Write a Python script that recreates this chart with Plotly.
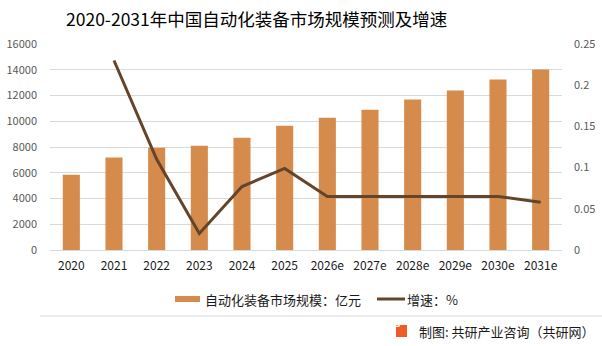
import plotly.graph_objects as go

categories = ["2020", "2021", "2022", "2023", "2024", "2025",
              "2026e", "2027e", "2028e", "2029e", "2030e", "2031e"]
market_size = [5850, 7180, 7950, 8100, 8720, 9650,
               10280, 10900, 11680, 12380, 13240, 14020]
growth = [None, 0.23, 0.11, 0.02, 0.077, 0.099,
          0.065, 0.065, 0.065, 0.065, 0.065, 0.058]

left_ticks = [0, 2000, 4000, 6000, 8000, 10000, 12000, 14000, 16000]
left_labels = [str(v) for v in left_ticks]
right_ticks = [0, 0.05, 0.1, 0.15, 0.2, 0.25]
right_labels = ["0", "0.05", "0.1", "0.15", "0.2", "0.25"]

title_text = "2020-2031年中国自动化装备市场规模预测及增速"
bar_name = "自动化装备市场规模：亿元"
line_name = "增速：%"
BAR_COLOR = "#D48B4C"
LINE_COLOR = "#654529"

FONT = "Noto Sans CJK SC"
W, H = 602, 346
L, R, T, B = 50, 40, 44, 96
PW, PH = W - L - R, H - T - B

def px(x):
    return (x - L) / PW

def py(y):
    return (H - B - y) / PH

fig = go.Figure()
fig.add_trace(go.Bar(
    x=categories, y=market_size, name=bar_name,
    marker=dict(color=BAR_COLOR, line=dict(width=0)), yaxis="y",
))
fig.add_trace(go.Scatter(
    x=categories, y=growth, name=line_name, mode="lines",
    line=dict(color=LINE_COLOR, width=3), yaxis="y2",
))

fig.update_layout(
    width=W, height=H,
    margin=dict(l=L, r=R, t=T, b=B, autoexpand=False),
    paper_bgcolor="white", plot_bgcolor="white",
    bargap=0.6,
    showlegend=False,
    font=dict(family=FONT, color="#595959"),
    xaxis=dict(type="category", showgrid=False, showline=True,
               linecolor="#D9D9D9", linewidth=1, ticks="", automargin=False,
               tickfont=dict(size=12, color="#1a1a1a", family=FONT),
               ticklabelstandoff=5),
    yaxis=dict(range=[0, 16000], tickvals=left_ticks, ticktext=left_labels,
               showgrid=True, gridcolor="#D9D9D9", gridwidth=1, zeroline=False,
               automargin=False,
               tickfont=dict(size=11, color="#595959", family=FONT),
               ticklabelstandoff=12, showline=False),
    yaxis2=dict(range=[0, 0.25], tickvals=right_ticks, ticktext=right_labels,
                overlaying="y", side="right", showgrid=False, zeroline=False,
                automargin=False,
                tickfont=dict(size=11, color="#595959", family=FONT),
                ticklabelstandoff=11, showline=False),
)

# title
fig.add_annotation(text=title_text, xref="paper", yref="paper",
                   x=px(256), xanchor="center", y=py(18), yanchor="middle",
                   showarrow=False,
                   font=dict(size=17.5, color="#000000", family=FONT))

# custom legend
fig.add_shape(type="rect", xref="paper", yref="paper",
              x0=px(175), x1=px(200), y0=py(302), y1=py(296),
              fillcolor=BAR_COLOR, line=dict(width=0))
fig.add_annotation(text=bar_name, xref="paper", yref="paper",
                   x=px(203), xanchor="left", y=py(299), yanchor="middle",
                   showarrow=False,
                   font=dict(size=13, color="#1a1a1a", family=FONT))
fig.add_shape(type="line", xref="paper", yref="paper",
              x0=px(377), x1=px(405), y0=py(299), y1=py(299),
              line=dict(color=LINE_COLOR, width=3))
fig.add_annotation(text=line_name, xref="paper", yref="paper",
                   x=px(405), xanchor="left", y=py(299), yanchor="middle",
                   showarrow=False,
                   font=dict(size=13, color="#1a1a1a", family=FONT))

# footer separator
fig.add_shape(type="line", xref="paper", yref="paper",
              x0=px(40), x1=px(602), y0=py(316), y1=py(316),
              line=dict(color="#D9D9D9", width=1))
# logo
fig.add_shape(type="rect", xref="paper", yref="paper",
              x0=px(396), x1=px(407), y0=py(337), y1=py(325),
              fillcolor="#F15A24", line=dict(width=0))
fig.add_annotation(text="<b>G</b>", xref="paper", yref="paper",
                   x=px(401.5), y=py(331), showarrow=False,
                   font=dict(size=9, color="white", family="DejaVu Sans"))
fig.add_annotation(text="制图: 共研产业咨询（共研网）", xref="paper", yref="paper",
                   x=px(597), xanchor="right", y=py(331), yanchor="middle",
                   showarrow=False,
                   font=dict(size=13, color="#1a1a1a", family=FONT))

fig.write_html("out.html")
